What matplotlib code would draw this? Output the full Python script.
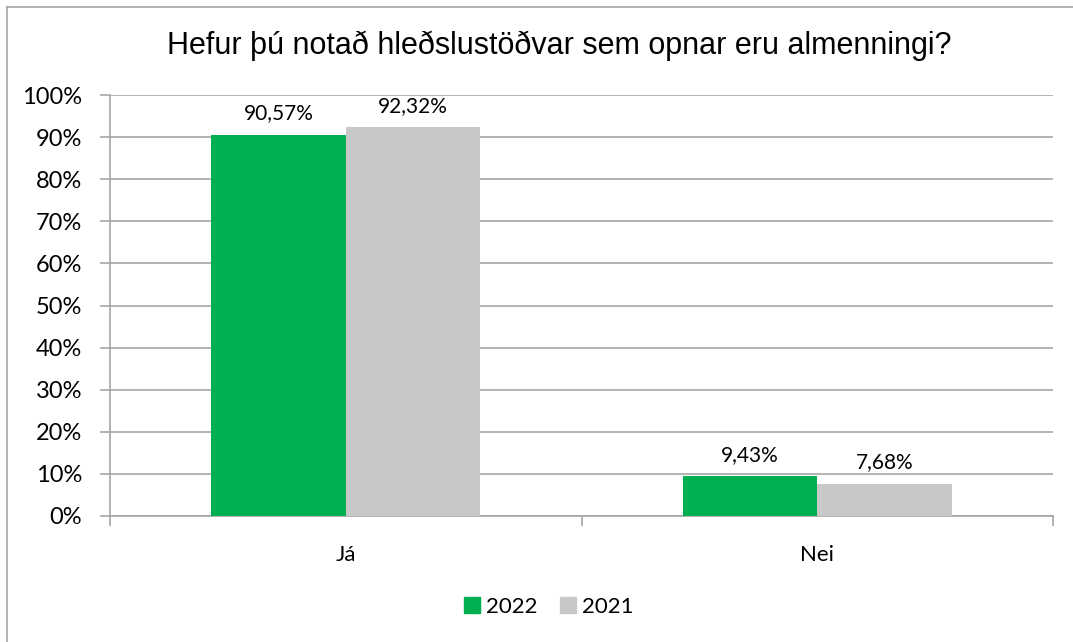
import matplotlib
matplotlib.use("Agg")
import matplotlib.pyplot as plt
from matplotlib.lines import Line2D
import numpy as np

title = "Hefur þú notað hleðslustöðvar sem opnar eru almenningi?"
categories = ["Já", "Nei"]
series_names = ["2022", "2021"]
values_2022 = [90.57, 9.43]
values_2021 = [92.32, 7.68]
labels_2022 = ["90,57%", "9,43%"]
labels_2021 = ["92,32%", "7,68%"]
yticks = [0, 10, 20, 30, 40, 50, 60, 70, 80, 90, 100]
colors = ["#00B050", "#C8C8C8"]

W, H = 1073, 642
fig = plt.figure(figsize=(W / 100, H / 100), dpi=100)
ax = fig.add_axes([110 / W, 1 - 516 / H, (1053 - 110) / W, (516 - 95) / H])

lab_font = "Lato"
x = np.arange(len(categories))
bw = 0.285
b1 = ax.bar(x - bw / 2, values_2022, bw, color=colors[0], zorder=3, label=series_names[0])
b2 = ax.bar(x + bw / 2, values_2021, bw, color=colors[1], zorder=3, label=series_names[1])
for bars, labs in ((b1, labels_2022), (b2, labels_2021)):
    for rect, lab in zip(bars, labs):
        ax.annotate(lab, (rect.get_x() + rect.get_width() / 2, rect.get_height()),
                    xytext=(0, 8), textcoords="offset points", ha="center", va="bottom",
                    fontsize=15, family=lab_font, color="black")

ax.set_ylim(0, 100)
ax.set_xlim(-0.5, len(categories) - 0.5)
ax.set_yticks(yticks)
ax.set_yticklabels([f"{t}%" for t in yticks], fontsize=17, family=lab_font)
ax.yaxis.grid(True, color="#A6A6A6", linewidth=1.2, zorder=0)
ax.set_xticks(np.arange(-0.5, len(categories), 1.0))
ax.set_xticklabels([])
ax.set_xticks(x, minor=True)
ax.set_xticklabels(categories, minor=True, fontsize=16, family=lab_font)
ax.tick_params(axis="x", which="minor", length=0, pad=21)
ax.tick_params(axis="x", which="major", length=7, color="#A6A6A6", width=1.2)
ax.tick_params(axis="y", length=7, color="#A6A6A6", width=1.2, pad=13)
for s in ("top", "right"):
    ax.spines[s].set_visible(False)
for s in ("left", "bottom"):
    ax.spines[s].set_color("#A6A6A6")
    ax.spines[s].set_linewidth(1.2)

fig.text(559 / W, 1 - 46 / H, title, ha="center", va="center", fontsize=22,
         family="Liberation Sans")

handles = [plt.Rectangle((0, 0), 1, 1, color=c) for c in colors]
fig.legend(handles, series_names, loc="center", bbox_to_anchor=(549 / W, 1 - 607 / H),
           ncol=2, frameon=False, prop={"family": lab_font, "size": 16},
           handlelength=0.7, handleheight=0.7, handletextpad=0.3, columnspacing=1.0)

# outer chart border
fig.add_artist(Line2D([7 / W, 7 / W], [0, 1 - 7 / H], transform=fig.transFigure,
                      color="#A6A6A6", linewidth=1.2))
fig.add_artist(Line2D([7 / W, 1], [1 - 7 / H, 1 - 7 / H], transform=fig.transFigure,
                      color="#A6A6A6", linewidth=1.2))

fig.savefig("out.png", dpi=100)
